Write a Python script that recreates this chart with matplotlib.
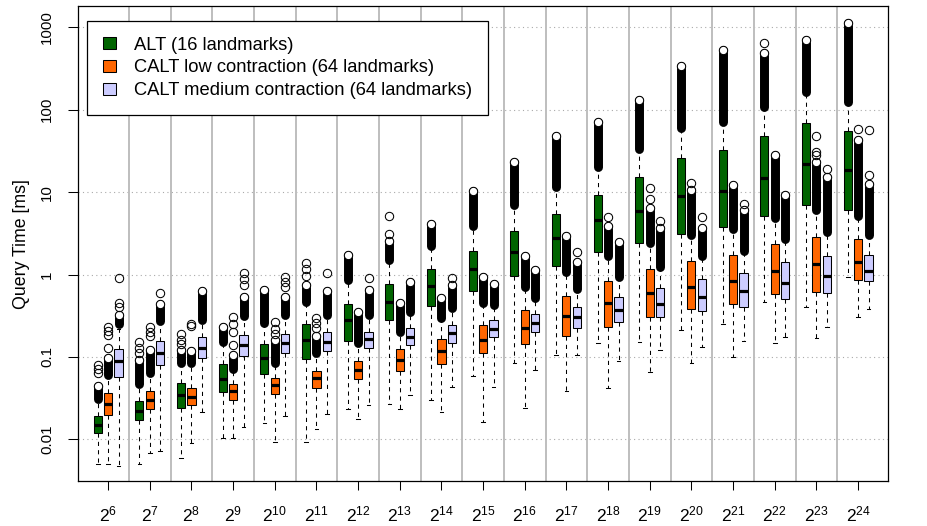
import matplotlib
matplotlib.use('Agg')
import matplotlib.pyplot as plt
from matplotlib.patches import Patch

plt.rcParams['font.family'] = ['Liberation Sans', 'DejaVu Sans']
plt.rcParams['mathtext.fontset'] = 'custom'
plt.rcParams['mathtext.rm'] = 'Liberation Sans'
plt.rcParams['mathtext.it'] = 'Liberation Sans:italic'
plt.rcParams['mathtext.bf'] = 'Liberation Sans:bold'
plt.rcParams['mathtext.default'] = 'regular'

# ---------------- data ----------------
exponents = list(range(6, 25))
tick_labels = ['$2^{%d}$' % e for e in exponents]
series_names = ['ALT (16 landmarks)',
                'CALT low contraction (64 landmarks)',
                'CALT medium contraction (64 landmarks)']
series_colors = ['#006400', '#FF6600', '#CCCCFF']
y_ticks = [0.01, 0.1, 1, 10, 100, 1000]
y_tick_labels = ['0.01', '0.1', '1', '10', '100', '1000']

# ALT (16 landmarks)
alt_med = [.0149, .0221, .0345, .0546, .0964, .161, .281, .47, .728, 1.16,
           1.85, 2.76, 4.53, 5.82, 8.85, 10.3, 14.9, 22.1, 18.4]
alt_q1 = [.0119, .0172, .024, .0372, .0615, .0946, .158, .279, .416, .628,
          .946, 1.27, 1.90, 2.43, 3.12, 3.75, 5.15, 6.89, 5.98]
alt_q3 = [.019, .0292, .0479, .0822, .1426, .249, .436, .764, 1.16, 1.95,
          3.39, 5.46, 9.29, 15.2, 25.9, 32.1, 47.6, 69.2, 54.7]
alt_lo = [.0050, .0050, .006, .0103, .0159, .0092, .0231, .0266, .030, .0593,
          .0838, .106, .149, .153, .213, .25, .458, .398, .924]
alt_hi = [.029, .044, .08, .145, .25, .45, .82, 1.45, 2.1, 3.7,
          6.7, 11, 19, 32, 57, 68, 103, 158, 118]
alt_out_lo = [.0309, .047, .0838, .153, .261, .47, .861, 1.51, 2.19, 3.9,
              7.01, 11.5, 19.9, 33.3, 59.8, 71.1, 108, 165, 124]
alt_out_hi = [.0445, .092, .122, .229, .64, .75, 1.73, 2.52, 4.12, 10.2,
              23.5, 48.3, 70.2, 130, 336, 530, 483, 701, 1119]
alt_out_extra = [[.0633, .0708, .080], [.113, .130, .152], [.144, .161, .188], [],
                 [], [.946, 1.16, 1.37], [], [3.12, 5.2], [], [],
                 [], [], [], [], [], [], [638], [], []]

# CALT low contraction (64 landmarks)
low_med = [.0268, .030, .033, .0383, .0453, .055, .0695, .0911, .119, .161,
           .223, .315, .449, .593, .702, .826, 1.11, 1.34, 1.41]
low_q1 = [.0198, .0231, .0259, .030, .0352, .0425, .0536, .0676, .083, .112,
          .144, .177, .233, .309, .386, .438, .579, .618, .865]
low_q3 = [.0362, .039, .0425, .047, .055, .0682, .0894, .124, .1655, .247,
          .372, .551, .838, 1.16, 1.45, 1.74, 2.35, 2.83, 2.7]
low_lo = [.0050, .0069, .0091, .0103, .0092, .0134, .0175, .0231, .0213, .0161,
          .0238, .0386, .0425, .0652, .0838, .1, .149, .169, .307]
low_hi = [.058, .061, .081, .068, .08, .105, .14, .195, .28, .43,
          .68, 1.03, 1.6, 2.3, 2.9, 3.4, 4.6, 5.7, 4.9]
low_out_lo = [.0604, .0634, .085, .0708, .0838, .111, .1465, .203, .295, .449,
              .715, 1.087, 1.69, 2.41, 3.03, 3.58, 4.87, 5.98, 5.2]
low_out_hi = [.098, .122, .119, .106, .161, .177, .355, .449, .516, .92,
              1.66, 2.95, 3.83, 6.4, 10.7, 12.1, 27.9, 23.2, 42.6]
low_out_extra = [[.127, .183, .207, .233], [.177, .203, .233], [.24, .25],
                 [.14, .203, .251, .309], [.19, .216, .268], [.223, .256, .30],
                 [], [], [], [], [], [], [4.97], [8.22, 11.2], [12.8], [], [],
                 [27.9, 30.7, 47.6], [59]]

# CALT medium contraction (64 landmarks)
med_med = [.0894, .113, .1285, .1386, .1465, .152, .1655, .173, .194, .219,
           .256, .306, .369, .436, .531, .624, .789, .96, 1.09]
med_q1 = [.0566, .079, .0972, .103, .112, .118, .127, .1386, .149, .172,
          .198, .227, .264, .303, .356, .398, .504, .596, .826]
med_q3 = [.125, .156, .172, .183, .188, .1995, .203, .227, .247, .279,
          .33, .408, .531, .695, .877, 1.03, 1.41, 1.69, 1.74]
med_lo = [.0048, .0073, .0217, .0143, .0194, .0203, .0261, .0345, .0428, .0428,
          .0695, .106, .0901, .1216, .131, .157, .175, .232, .38]
med_hi = [.22, .26, .26, .30, .30, .30, .30, .33, .37, .40,
          .49, .63, .87, 1.18, 1.57, 1.85, 2.55, 3.1, 2.9]
med_out_lo = [.252, .276, .281, .315, .324, .324, .324, .355, .39, .428,
              .516, .67, .92, 1.25, 1.66, 1.95, 2.7, 3.26, 3.05]
med_out_hi = [.324, .44, .622, .531, .54, .622, .64, .822, .75, .764,
              1.14, 1.4, 2.47, 3.66, 3.66, 5.98, 9.1, 15.2, 12.6]
med_out_extra = [[.408, .449, .90], [.60], [], [.756, .885, 1.03], [.70, .80, .92],
                 [1.03], [.912], [], [.912], [], [], [1.87], [], [4.4], [4.97],
                 [7.21], [], [19.2], [16.0, 56.4]]

series = [
    (alt_med, alt_q1, alt_q3, alt_lo, alt_hi, alt_out_lo, alt_out_hi, alt_out_extra),
    (low_med, low_q1, low_q3, low_lo, low_hi, low_out_lo, low_out_hi, low_out_extra),
    (med_med, med_q1, med_q3, med_lo, med_hi, med_out_lo, med_out_hi, med_out_extra),
]

# ---------------- figure ----------------
W, H = 928, 526
fig = plt.figure(figsize=(W / 100, H / 100), dpi=100)
ax = fig.add_axes([77.7 / W, (H - 481) / H, 810.6 / W, 474.7 / H])

n_groups = len(exponents)
group_step = 4
box_w = 0.78
ms = 6.0
mew = 0.75

for s, (med, q1, q3, lo, hi, olo, ohi, extra) in enumerate(series):
    stats = []
    pos = []
    for g in range(n_groups):
        stats.append(dict(med=med[g], q1=q1[g], q3=q3[g], whislo=lo[g],
                          whishi=hi[g], fliers=[]))
        pos.append(group_step * g + s + 1)
    ax.bxp(stats, positions=pos, widths=box_w, patch_artist=True,
           showfliers=False, capwidths=box_w * 0.45,
           boxprops=dict(facecolor=series_colors[s], edgecolor='black', linewidth=0.75),
           medianprops=dict(color='black', linewidth=2.3, solid_capstyle='butt'),
           whiskerprops=dict(color='black', linewidth=0.75, linestyle=(0, (4, 4))),
           capprops=dict(color='black', linewidth=0.75),
           zorder=3)
    for g in range(n_groups):
        x = pos[g]
        ax.plot([x, x], [olo[g], ohi[g]], color='black', lw=ms + mew - 0.3,
                solid_capstyle='round', zorder=4)
        ax.plot([x], [ohi[g]], 'o', ms=ms, mfc='white', mec='black', mew=mew, zorder=5)
        if extra[g]:
            ax.plot([x] * len(extra[g]), extra[g], 'o', ms=ms, mfc='none',
                    mec='black', mew=mew, zorder=5)

# group separators
for g in range(1, n_groups):
    ax.axvline(group_step * g, color='#bebebe', lw=1.4, zorder=1)

ax.set_yscale('log')
ax.set_ylim(0.003119, 1798)
ax.set_xlim(-0.92, 76.9)

ax.set_yticks(y_ticks)
ax.set_yticklabels(y_tick_labels)
ax.yaxis.set_minor_locator(matplotlib.ticker.NullLocator())
ax.set_xticks([group_step * g + 2 for g in range(n_groups)])
ax.set_xticklabels(tick_labels)

ax.grid(True, axis='y', which='major', linestyle=(0, (1, 3)), color='#aaaaaa', lw=0.8)
ax.set_axisbelow(True)

ax.tick_params(axis='y', length=7.5, width=0.75, pad=9.5, labelsize=10.8,
               labelrotation=90)
for lab in ax.get_yticklabels():
    lab.set_verticalalignment('center')
ax.tick_params(axis='x', length=6.5, width=0.75, pad=10.5, labelsize=12.6)

for sp in ax.spines.values():
    sp.set_linewidth(0.9)

ax.set_ylabel('Query Time [ms]', fontsize=12.8)
ax.yaxis.set_label_coords(-0.0593, 0.5)

handles = [Patch(facecolor=c, edgecolor='black', linewidth=0.75, label=n)
           for c, n in zip(series_colors, series_names)]
leg = ax.legend(handles=handles, loc='upper left', bbox_to_anchor=(0.0118, 0.969),
                borderaxespad=0, fancybox=False, framealpha=1, edgecolor='black',
                fontsize=13.2, handlelength=0.72, handleheight=0.62,
                handletextpad=0.95, labelspacing=0.31, borderpad=0.86)
leg.get_frame().set_linewidth(0.9)
leg.set_zorder(10)

fig.savefig('out.png', dpi=100)
